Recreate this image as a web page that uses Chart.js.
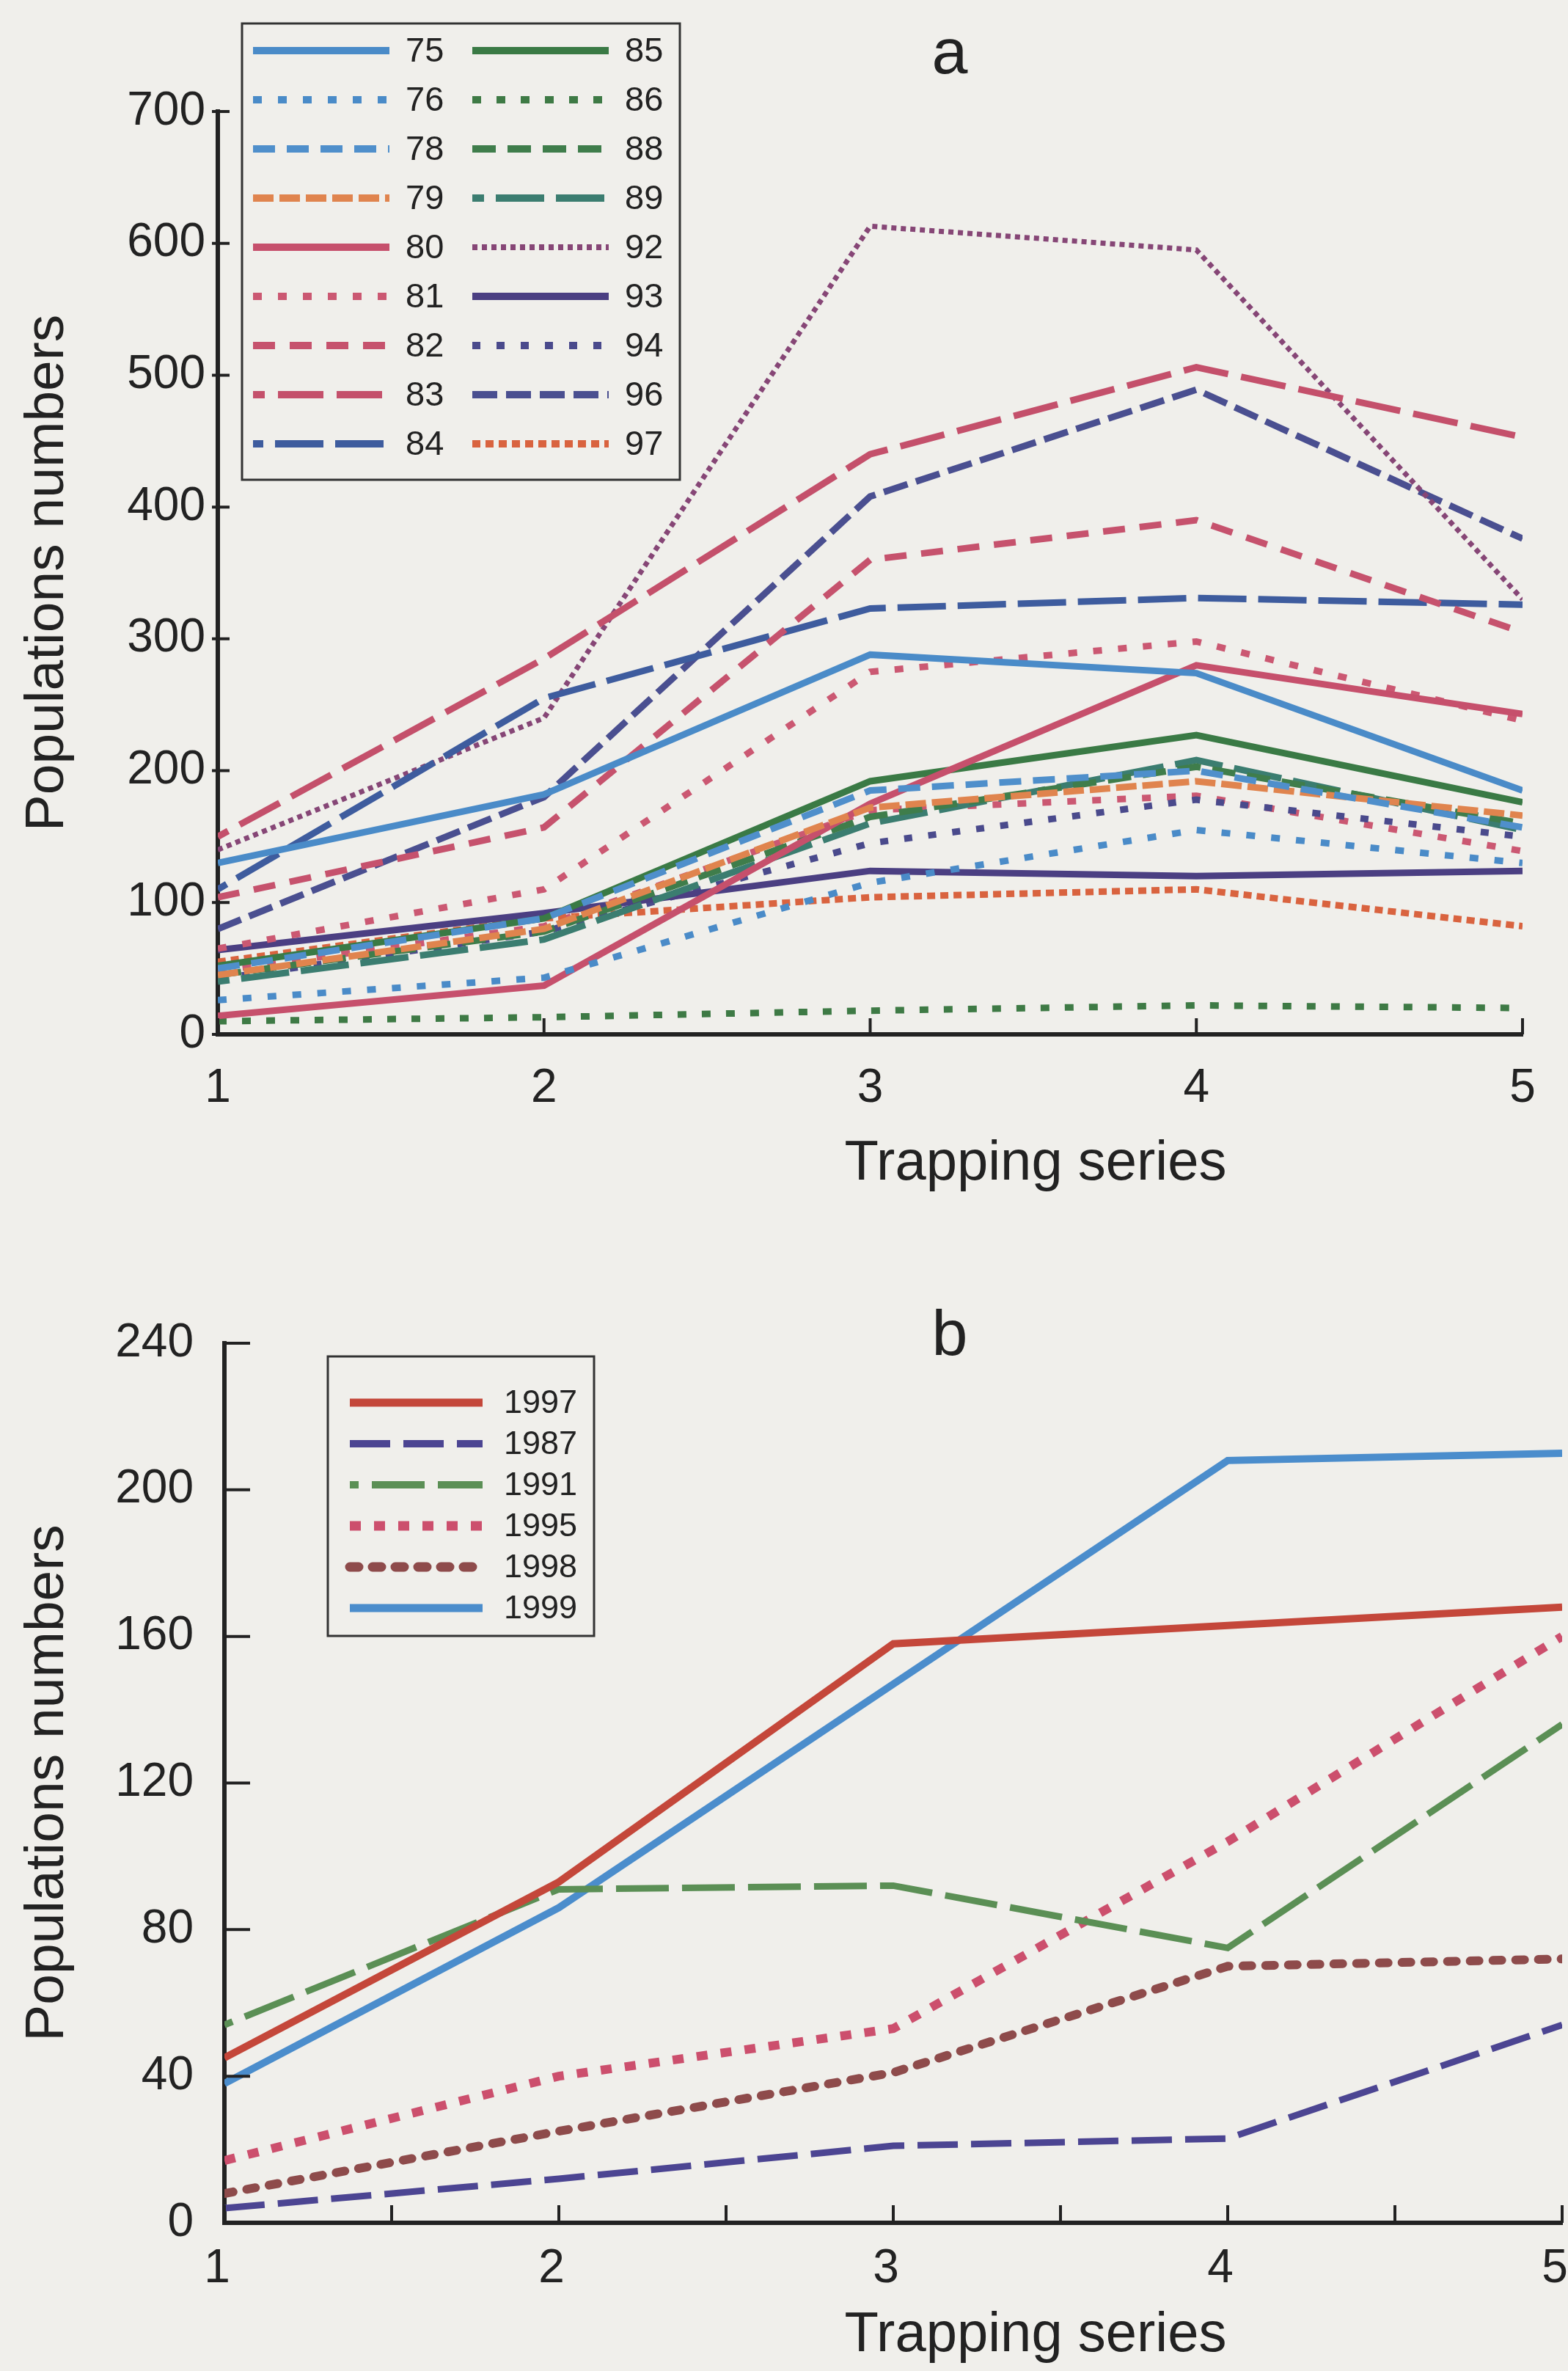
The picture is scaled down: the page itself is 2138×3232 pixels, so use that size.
<!DOCTYPE html>
<html lang="en">
<head>
<meta charset="utf-8">
<title>Population numbers by trapping series</title>
<script src="https://cdn.jsdelivr.net/npm/chart.js@4.4.1/dist/chart.umd.min.js"></script>
<style>
    html, body { margin: 0; padding: 0; background: #f0efeb; }
    #page {
        position: relative;
        width: 2138px;
        height: 3232px;
        overflow: hidden;
        font-family: "Liberation Sans", Arial, sans-serif;
        color: #222;
    }
    canvas { position: absolute; left: 0; }
    #chart-a { top: 0; }
    #chart-b { top: 1700px; }
    .label {
        position: absolute;
        transform: translate(-50%, -50%);
        line-height: 1;
        white-space: nowrap;
    }
    .panel-tag { font-size: 88px; }
    .x-title { font-size: 76px; }
</style>
</head>
<body>
<div id="page">
    <canvas id="chart-a" width="2138" height="1700"></canvas>
    <canvas id="chart-b" width="2138" height="1532"></canvas>
    <div class="label panel-tag" style="left:1295px; top:70px;">a</div>
    <div class="label x-title" style="left:1412px; top:1582px;">Trapping series</div>
    <div class="label panel-tag" style="left:1295px; top:1817px;">b</div>
    <div class="label x-title" style="left:1412px; top:3179px;">Trapping series</div>
</div>

<script>
// --- Data: x positions (trapping series) ---
const trapSeries = [1, 2, 3, 4, 5];

// --- Panel a: yearly population numbers (legend labels = year, 19xx) ---
const pop75 = [130, 182, 288, 274, 185];
const pop76 = [26, 43, 115, 155, 130];
const pop78 = [50, 88, 185, 200, 157];
const pop79 = [45, 80, 172, 192, 166];
const pop80 = [14, 37, 175, 280, 243];
const pop81 = [65, 110, 275, 298, 238];
const pop82 = [104, 157, 360, 390, 305];
const pop83 = [150, 285, 440, 506, 453];
const pop84 = [110, 255, 323, 331, 326];
const pop85 = [52, 88, 192, 227, 176];
const pop86 = [10, 13, 18, 22, 20];
const pop88 = [45, 78, 165, 203, 160];
const pop89 = [40, 72, 160, 208, 155];
const pop92 = [140, 240, 613, 595, 330];
const pop93 = [64, 92, 124, 120, 124];
const pop94 = [42, 78, 145, 178, 150];
const pop96 = [80, 180, 408, 489, 376];
const pop97 = [55, 88, 104, 110, 82];
// pink dotted line drawn in panel a that has no legend entry
const popUnlabelled = [48, 82, 170, 181, 139];

// --- Panel b ---
const pop1997 = [45, 93, 158, 163, 168];
const pop1987 = [4, 12, 21, 23, 54];
const pop1991 = [54, 91, 92, 75, 136];
const pop1995 = [17, 40, 53, 104, 160];
const pop1998 = [8, 25, 41, 70, 72];
const pop1999 = [38, 86, 147, 208, 210];

// --- Axis ticks ---
const yTicksA = { min: 0, max: 700, step: 100 };
const yTicksB = { min: 0, max: 240, step: 40 };

const FONT = '"Liberation Sans", Arial, sans-serif';
const INK = '#222';
const PAPER = '#f0efeb';

/**
 * Builds one line dataset from a named values array
 */
function makeLine(label, values, color, dash, width, extra) {
    return Object.assign({
        label: label,
        data: trapSeries.map((x, i) => ({ x: x, y: values[i] })),
        borderColor: color,
        backgroundColor: color,
        borderDash: dash,
        borderWidth: width,
        borderCapStyle: 'butt',
        borderJoinStyle: 'miter',
        pointRadius: 0,
        tension: 0,
        fill: false
    }, extra || {});
}

const datasetsA = [
    makeLine('75', pop75, '#4a8bc8', [], 9),
    makeLine('76', pop76, '#4a8bc8', [12, 22], 9),
    makeLine('78', pop78, '#4f8fcb', [30, 16], 9),
    makeLine('79', pop79, '#e0844e', [28, 8], 9),
    makeLine('80', pop80, '#c6506c', [], 9),
    makeLine('81', pop81, '#cb5872', [12, 22], 9),
    makeLine('82', pop82, '#c6526d', [30, 20], 9),
    makeLine('83', pop83, '#c4506b', [62, 18], 9, { borderDashOffset: 46 }),
    makeLine('84', pop84, '#3e5c9e', [66, 16], 9, { borderDashOffset: 52 }),
    makeLine('85', pop85, '#3a7a45', [], 9),
    makeLine('86', pop86, '#3e7a45', [12, 21], 9),
    makeLine('88', pop88, '#3f7d4b', [32, 16], 9),
    makeLine('89', pop89, '#3b7d70', [66, 16], 9, { borderDashOffset: 50 }),
    makeLine('92', pop92, '#864676', [7, 6], 7),
    makeLine('93', pop93, '#4b3f82', [], 9),
    makeLine('94', pop94, '#4a4a8c', [11, 22], 9),
    makeLine('96', pop96, '#4a4f90', [34, 12], 9),
    makeLine('97', pop97, '#d9633f', [11, 7], 9),
    makeLine('', popUnlabelled, '#cb5872', [12, 22], 9, { legendHidden: true })
];

const datasetsB = [
    makeLine('1997', pop1997, '#c4473a', [], 10),
    makeLine('1987', pop1987, '#4c4592', [55, 18], 9),
    makeLine('1991', pop1991, '#5b8f55', [72, 18], 9, { borderDashOffset: 60 }),
    makeLine('1995', pop1995, '#cc4f6d', [15, 18], 12),
    makeLine('1998', pop1998, '#8e4b4b', [12, 19], 12, { borderCapStyle: 'round' }),
    makeLine('1999', pop1999, '#4b8dcc', [], 10)
];

// --- Plugin: short tick marks pointing into the plot ---
const inwardTicks = {
    id: 'inwardTicks',
    afterDraw(chart, args, opts) {
        const { ctx, chartArea } = chart;
        const xs = chart.scales.x;
        const ys = chart.scales.y;
        ctx.save();
        ctx.strokeStyle = INK;
        ctx.lineWidth = opts.width;
        ctx.beginPath();
        xs.ticks.forEach(t => {
            const px = xs.getPixelForValue(t.value);
            ctx.moveTo(px, chartArea.bottom);
            ctx.lineTo(px, chartArea.bottom - opts.xLen);
        });
        ys.ticks.forEach(t => {
            const py = ys.getPixelForValue(t.value);
            ctx.moveTo(chartArea.left - opts.yOut, py);
            ctx.lineTo(chartArea.left + opts.yLen, py);
        });
        ctx.stroke();
        ctx.restore();
    }
};

// --- Plugin: boxed legend placed inside the plot ---
const insetLegend = {
    id: 'insetLegend',
    afterDraw(chart, args, opts) {
        const { ctx, chartArea } = chart;
        const x0 = chartArea.left + opts.left;
        const y0 = chartArea.top + opts.top;
        ctx.save();
        ctx.fillStyle = PAPER;
        ctx.fillRect(x0, y0, opts.width, opts.height);
        ctx.strokeStyle = '#333';
        ctx.lineWidth = 3;
        ctx.strokeRect(x0, y0, opts.width, opts.height);

        ctx.font = `${opts.fontSize}px ${FONT}`;
        ctx.textBaseline = 'middle';
        ctx.textAlign = 'left';

        let idx = 0;
        chart.data.datasets.forEach(ds => {
            if (ds.legendHidden) return;
            const col = Math.floor(idx / opts.rows);
            const row = idx % opts.rows;
            const y = y0 + opts.firstRow + row * opts.rowGap;
            const lx = x0 + opts.lineX[col];

            ctx.strokeStyle = ds.borderColor;
            ctx.lineWidth = ds.borderWidth + 1;
            ctx.lineCap = ds.borderCapStyle || 'butt';
            ctx.setLineDash(ds.borderDash || []);
            ctx.lineDashOffset = ds.borderDashOffset || 0;
            ctx.beginPath();
            ctx.moveTo(lx, y);
            ctx.lineTo(lx + opts.lineLen, y);
            ctx.stroke();

            ctx.setLineDash([]);
            ctx.fillStyle = INK;
            ctx.fillText(ds.label, x0 + opts.textX[col], y + 2);
            idx++;
        });
        ctx.restore();
    }
};

function axisFont(size) {
    return { size: size, family: FONT };
}

// --- Panel a ---
new Chart(document.getElementById('chart-a'), {
    type: 'line',
    data: { datasets: datasetsA },
    options: {
        responsive: false,
        animation: false,
        events: [],
        layout: { padding: { top: 152, right: 62, left: 0, bottom: 0 } },
        plugins: {
            legend: { display: false },
            tooltip: { enabled: false },
            inwardTicks: { xLen: 22, yLen: 16, yOut: 8, width: 4 },
            insetLegend: {
                left: 33, top: -120, width: 597, height: 622,
                rows: 9, firstRow: 37, rowGap: 67,
                lineX: [15, 314], lineLen: 186, textX: [223, 522],
                fontSize: 47
            }
        },
        scales: {
            x: {
                type: 'linear',
                min: 1,
                max: 5,
                ticks: { stepSize: 1, color: INK, font: axisFont(64), padding: 36 },
                grid: { display: false, drawTicks: false },
                border: { display: true, color: INK, width: 6 },
                afterFit: s => { s.height = 290; }
            },
            y: {
                type: 'linear',
                min: yTicksA.min,
                max: yTicksA.max,
                ticks: { stepSize: yTicksA.step, color: INK, font: axisFont(64), padding: 17 },
                grid: { display: false, drawTicks: false },
                border: { display: true, color: INK, width: 6 },
                title: {
                    display: true,
                    text: 'Populations numbers',
                    color: INK,
                    font: axisFont(75),
                    padding: { top: 20, bottom: 0 }
                },
                afterFit: s => { s.width = 297; }
            }
        }
    },
    plugins: [inwardTicks, insetLegend]
});

// --- Panel b ---
new Chart(document.getElementById('chart-b'), {
    type: 'line',
    data: { datasets: datasetsB },
    options: {
        responsive: false,
        animation: false,
        events: [],
        layout: { padding: { top: 131, right: 8, left: 0, bottom: 0 } },
        plugins: {
            legend: { display: false },
            tooltip: { enabled: false },
            inwardTicks: { xLen: 24, yLen: 35, yOut: 0, width: 4 },
            insetLegend: {
                left: 141, top: 18, width: 363, height: 381,
                rows: 6, firstRow: 63, rowGap: 56,
                lineX: [30], lineLen: 181, textX: [240],
                fontSize: 45
            }
        },
        scales: {
            x: {
                type: 'linear',
                min: 1,
                max: 5,
                ticks: {
                    stepSize: 0.5,
                    color: INK,
                    font: axisFont(64),
                    padding: 25,
                    labelOffset: -10,
                    callback: v => Number.isInteger(v) ? String(v) : ''
                },
                grid: { display: false, drawTicks: false },
                border: { display: true, color: INK, width: 6 },
                afterFit: s => {
                    s.height = 202;
                    s.paddingRight = 0;
                    s.paddingLeft = 0;
                }
            },
            y: {
                type: 'linear',
                min: yTicksB.min,
                max: yTicksB.max,
                ticks: { stepSize: yTicksB.step, color: INK, font: axisFont(64), padding: 42 },
                grid: { display: false, drawTicks: false },
                border: { display: true, color: INK, width: 6 },
                title: {
                    display: true,
                    text: 'Populations numbers',
                    color: INK,
                    font: axisFont(75),
                    padding: { top: 20, bottom: 0 }
                },
                afterFit: s => { s.width = 306; }
            }
        }
    },
    plugins: [inwardTicks, insetLegend]
});
</script>
</body>
</html>
